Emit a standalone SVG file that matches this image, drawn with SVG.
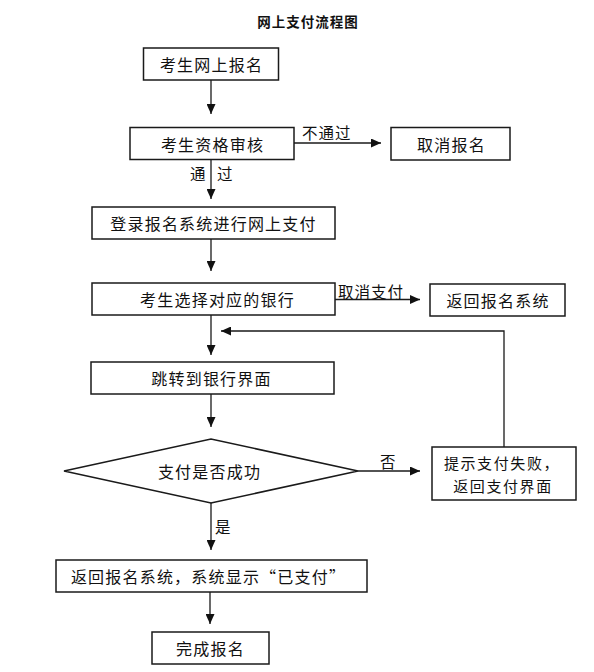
<svg xmlns="http://www.w3.org/2000/svg" width="594" height="672" viewBox="0 0 594 672">
<style>
  .box { fill: #fff; stroke: #1a1a1a; stroke-width: 1.5; }
  .t { font-family: "Noto Sans CJK SC", "Noto Sans", sans-serif; font-size: 16px; fill: #111; text-anchor: middle; dominant-baseline: central; letter-spacing: 1.2px; }
  .t2 { font-size: 15px; letter-spacing: 1.6px; }
  .lbl { font-family: "Noto Sans CJK SC", "Noto Sans", sans-serif; font-size: 15.5px; fill: #111; dominant-baseline: central; letter-spacing: 1px; }
  .title { font-family: "Noto Sans CJK SC", "Noto Sans", sans-serif; font-size: 13.5px; font-weight: bold; fill: #111; text-anchor: middle; letter-spacing: 1px; }
  .c { fill: none; stroke: #1a1a1a; stroke-width: 1.3; }
</style>
<defs>
  <marker id="ah" markerUnits="userSpaceOnUse" markerWidth="11" markerHeight="9" refX="10" refY="4.5" orient="auto">
    <path d="M0,0 L10,4.5 L0,9 z" fill="#111"/>
  </marker>
</defs>
<rect width="594" height="672" fill="#fff"/>
<text class="title" x="308" y="27">网上支付流程图</text>

<g id="connectors">
  <line class="c" x1="211" y1="80" x2="211" y2="114" marker-end="url(#ah)"/>
  <line class="c" x1="294" y1="143" x2="381" y2="143" marker-end="url(#ah)"/>
  <text class="lbl" x="302" y="131.5">不通过</text>
  <line class="c" x1="211" y1="159.5" x2="211" y2="199" marker-end="url(#ah)"/>
  <text class="lbl" x="190" y="173">通</text>
  <text class="lbl" x="217" y="173">过</text>
  <line class="c" x1="211" y1="239" x2="211" y2="271" marker-end="url(#ah)"/>
  <line class="c" x1="335" y1="299.5" x2="420" y2="299.5" marker-end="url(#ah)"/>
  <text class="lbl" x="338" y="290.5">取消支付</text>
  <line class="c" x1="211" y1="315" x2="211" y2="355" marker-end="url(#ah)"/>
  <polyline class="c" points="504,447 504,331 221,331" marker-end="url(#ah)"/>
  <line class="c" x1="211" y1="394" x2="211" y2="427" marker-end="url(#ah)"/>
  <line class="c" x1="358" y1="471" x2="420" y2="471" marker-end="url(#ah)"/>
  <text class="lbl" x="380" y="461">否</text>
  <line class="c" x1="211" y1="503" x2="211" y2="550" marker-end="url(#ah)"/>
  <text class="lbl" x="215" y="526">是</text>
  <line class="c" x1="210" y1="592" x2="210" y2="624" marker-end="url(#ah)"/>
</g>

<g id="n1">
  <rect class="box" x="143.5" y="48" width="135" height="32"/>
  <text class="t" x="211.5" y="64">考生网上报名</text>
</g>
<g id="n2">
  <rect class="box" x="130" y="127.5" width="164" height="32"/>
  <text class="t" x="212.5" y="143.5">考生资格审核</text>
</g>
<g id="n3">
  <rect class="box" x="391" y="127.5" width="119" height="32.5"/>
  <text class="t" x="451.5" y="144">取消报名</text>
</g>
<g id="n4">
  <rect class="box" x="92" y="207" width="243" height="32"/>
  <text class="t" x="213.5" y="223">登录报名系统进行网上支付</text>
</g>
<g id="n5">
  <rect class="box" x="92" y="283" width="243" height="32"/>
  <text class="t" x="217.5" y="299">考生选择对应的银行</text>
</g>
<g id="n6">
  <rect class="box" x="430" y="284" width="135" height="32"/>
  <text class="t" x="498" y="300">返回报名系统</text>
</g>
<g id="n7">
  <rect class="box" x="91" y="362" width="243" height="32"/>
  <text class="t" x="211.5" y="378">跳转到银行界面</text>
</g>
<g id="n8">
  <polygon class="box" points="64,471 211,439 358,471 211,503"/>
  <text class="t" x="209.5" y="471">支付是否成功</text>
</g>
<g id="n9">
  <rect class="box" x="432" y="447" width="144" height="53"/>
  <text class="t t2" x="502" y="462">提示支付失败，</text>
  <text class="t t2" x="503" y="485">返回支付界面</text>
</g>
<g id="n10">
  <rect class="box" x="56" y="560" width="311" height="32"/>
  <text class="t" x="208.5" y="576">返回报名系统，系统显示“已支付”</text>
</g>
<g id="n11">
  <rect class="box" x="152" y="632" width="117" height="32"/>
  <text class="t" x="210.5" y="648">完成报名</text>
</g>
</svg>
